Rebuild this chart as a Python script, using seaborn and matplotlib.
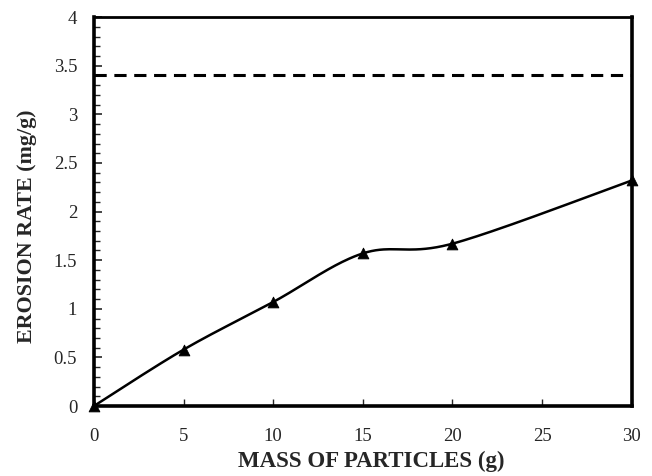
import numpy as np
import matplotlib
matplotlib.use("Agg")
import matplotlib.pyplot as plt
from matplotlib.ticker import MultipleLocator
import seaborn as sns
import pandas as pd

# data
mass = [0, 5, 10, 15, 20, 30]
erosion = [0.0, 0.58, 1.07, 1.57, 1.67, 2.32]
reference_rate = 3.4
x_ticks = [0, 5, 10, 15, 20, 25, 30]
y_ticks = [0, 0.5, 1, 1.5, 2, 2.5, 3, 3.5, 4]
y_tick_labels = ["0", "0.5", "1", "1.5", "2", "2.5", "3", "3.5", "4"]


def smooth(xs, ys, n=40):
    # Excel-style smoothed line (cubic Bezier with Catmull-Rom control points)
    xs = np.asarray(xs, float)
    ys = np.asarray(ys, float)
    px = np.concatenate([[xs[0]], xs, [xs[-1]]])
    py = np.concatenate([[ys[0]], ys, [ys[-1]]])
    out_x, out_y = [], []
    t = np.linspace(0, 1, n)
    for i in range(1, len(px) - 2):
        p0 = np.array([px[i], py[i]])
        p3 = np.array([px[i + 1], py[i + 1]])
        c1 = p0 + (np.array([px[i + 1], py[i + 1]]) - np.array([px[i - 1], py[i - 1]])) / 6
        c2 = p3 - (np.array([px[i + 2], py[i + 2]]) - np.array([px[i], py[i]])) / 6
        b = ((1 - t) ** 3)[:, None] * p0 + (3 * (1 - t) ** 2 * t)[:, None] * c1 \
            + (3 * (1 - t) * t ** 2)[:, None] * c2 + (t ** 3)[:, None] * p3
        out_x.extend(b[:, 0])
        out_y.extend(b[:, 1])
    return np.array(out_x), np.array(out_y)


sns.set_style("white")
plt.rcParams["font.family"] = ["Liberation Serif", "DejaVu Serif"]

fig = plt.figure(figsize=(6.52, 4.76), dpi=100)
ax = fig.add_axes([0.144, 0.147, 0.825, 0.817])

sx, sy = smooth(mass, erosion)
ax.plot(sx, sy, color="black", lw=1.8, zorder=3)
df = pd.DataFrame({"mass": mass, "erosion": erosion})
sns.scatterplot(data=df, x="mass", y="erosion", marker="^", s=60,
                color="black", edgecolor="black", ax=ax, zorder=4, clip_on=False)
ax.axhline(reference_rate, color="black", lw=2.2, ls=(0, (4, 2.5)), zorder=2)

ax.set_xlim(0, 30)
ax.set_ylim(0, 4)
ax.set_xticks(x_ticks)
ax.set_yticks(y_ticks)
ax.set_yticklabels(y_tick_labels)
ax.yaxis.set_minor_locator(MultipleLocator(0.1))

ax.tick_params(axis="x", direction="in", length=5, width=1, pad=16,
               labelsize=13.5, bottom=True, top=False)
ax.tick_params(axis="y", which="major", direction="in", length=6, width=1.2,
               pad=12, labelsize=13.5, left=True, right=False)
ax.tick_params(axis="y", which="minor", direction="in", length=4, width=1,
               left=True, right=False)

for side in ["left", "bottom", "right"]:
    ax.spines[side].set_linewidth(2.6)
ax.spines["top"].set_linewidth(2.0)
for s in ax.spines.values():
    s.set_color("black")

ax.set_xlabel("MASS OF PARTICLES (g)", fontsize=16.5, fontweight="bold")
ax.set_ylabel("EROSION RATE (mg/g)", fontsize=15.8, fontweight="bold")
ax.xaxis.set_label_coords(0.515, -0.115)
ax.yaxis.set_label_coords(-0.106, 0.463)

fig.savefig("out.png", dpi=100)
